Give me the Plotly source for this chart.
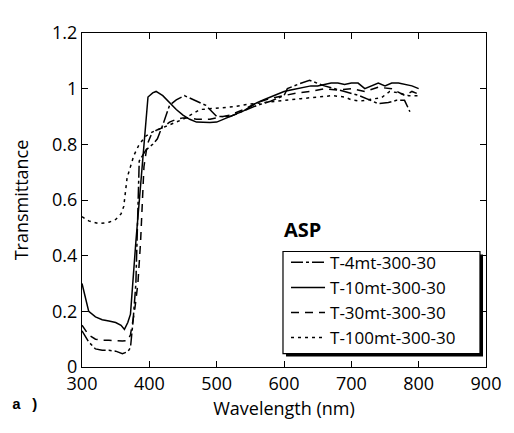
import plotly.graph_objects as go

# ---- data ----
names = ["T-4mt-300-30", "T-10mt-300-30", "T-30mt-300-30", "T-100mt-300-30"]

wl_4mt = [300, 310, 320, 330, 340, 350, 360, 368, 372, 376, 380, 385, 395, 405, 412, 420, 430,
          440, 452, 465, 484, 500, 520, 540, 560, 580, 600, 605, 620, 638, 660, 690, 712, 740,
          755, 767, 779, 787]
tr_4mt = [0.13, 0.09, 0.065, 0.06, 0.06, 0.057, 0.048, 0.055, 0.07, 0.17, 0.30, 0.74, 0.78,
          0.80, 0.82, 0.87, 0.94, 0.96, 0.975, 0.96, 0.94, 0.90, 0.90, 0.92, 0.94, 0.955, 0.975,
          1.0, 1.015, 1.03, 1.01, 0.99, 0.975, 0.946, 0.95, 0.958, 0.958, 0.917]

wl_10mt = [300, 305, 310, 320, 330, 340, 350, 358, 363, 368, 372, 380, 390, 398, 405, 410, 420,
           430, 440, 450, 460, 470, 480, 490, 500, 510, 520, 530, 540, 550, 560, 570, 580, 590,
           600, 610, 620, 630, 640, 650, 660, 670, 680, 690, 700, 710, 720, 730, 740, 750, 760,
           770, 780, 790, 800]
tr_10mt = [0.30, 0.25, 0.20, 0.18, 0.17, 0.165, 0.16, 0.15, 0.135, 0.16, 0.19, 0.45, 0.75, 0.97,
           0.985, 0.99, 0.975, 0.95, 0.925, 0.905, 0.89, 0.88, 0.878, 0.878, 0.88, 0.89, 0.90,
           0.91, 0.92, 0.935, 0.95, 0.96, 0.97, 0.98, 0.99, 0.995, 1.0, 1.005, 1.01, 1.01, 1.015,
           1.02, 1.02, 1.015, 1.02, 1.02, 1.0, 1.01, 1.02, 1.01, 1.02, 1.02, 1.015, 1.01, 1.0]

wl_30mt = [300, 305, 310, 320, 330, 340, 350, 360, 368, 372, 378, 383, 387, 392, 397, 402, 410,
           420, 430, 440, 450, 460, 470, 480, 490, 500, 520, 540, 560, 580, 600, 620, 640, 660,
           680, 700, 720, 740, 760, 780, 790, 800]
tr_30mt = [0.15, 0.13, 0.115, 0.10, 0.096, 0.096, 0.094, 0.093, 0.095, 0.116, 0.20, 0.30, 0.45,
           0.72, 0.80, 0.83, 0.85, 0.86, 0.88, 0.89, 0.895, 0.895, 0.89, 0.89, 0.89, 0.895, 0.905,
           0.925, 0.95, 0.965, 0.975, 0.985, 0.99, 1.0, 0.995, 1.0, 0.99, 1.005, 1.0, 0.975,
           0.99, 0.98]

wl_100mt = [300, 310, 325, 340, 350, 358, 362, 367, 372, 377, 385, 395, 405, 415, 430, 450, 475,
            500, 525, 550, 575, 600, 625, 650, 672, 690, 700, 712, 730, 745, 757, 770, 785, 800]
tr_100mt = [0.54, 0.525, 0.515, 0.52, 0.53, 0.55, 0.577, 0.68, 0.72, 0.76, 0.80, 0.83, 0.845,
            0.855, 0.87, 0.89, 0.925, 0.93, 0.935, 0.945, 0.952, 0.958, 0.964, 0.97, 0.975, 0.97,
            0.96, 0.955, 0.962, 0.968, 0.99, 0.985, 0.975, 0.975]

x_ticks = [300, 400, 500, 600, 700, 800, 900]
y_ticks = [0, 0.2, 0.4, 0.6, 0.8, 1, 1.2]

series = [
    (names[0], wl_4mt, tr_4mt, "12px,3px,3px,3px"),
    (names[1], wl_10mt, tr_10mt, "solid"),
    (names[2], wl_30mt, tr_30mt, "8px,6px"),
    (names[3], wl_100mt, tr_100mt, "3px,4px"),
]

FONT = "Open Sans"

fig = go.Figure()
for nm, xs, ys, dash in series:
    fig.add_trace(go.Scatter(x=xs, y=ys, mode="lines", name=nm,
                             line=dict(color="black", width=1.5, dash=dash)))

axis_common = dict(showline=True, linecolor="black", linewidth=1, mirror="ticks",
                   ticks="inside", ticklen=6, tickwidth=1, tickcolor="black",
                   showgrid=False, zeroline=False, ticklabeloverflow="allow",
                   tickfont=dict(family=FONT, size=18, color="black"))

# page body has an 8px margin: margins shifted to compensate
fig.update_layout(
    width=514, height=433,
    margin=dict(l=74, r=36, t=12, b=74),
    paper_bgcolor="white", plot_bgcolor="white",
    font=dict(family=FONT, color="black"),
    xaxis=dict(range=[300, 900], tickvals=x_ticks,
               title=dict(text="Wavelength (nm)", font=dict(family=FONT, size=18), standoff=8),
               **axis_common),
    yaxis=dict(range=[0, 1.2], tickvals=y_ticks,
               title=dict(text="Transmittance", font=dict(family=FONT, size=18), standoff=18),
               **axis_common),
    legend=dict(x=0.505, y=0.366, xanchor="left", yanchor="top",
                bgcolor="rgba(0,0,0,0)", borderwidth=0,
                font=dict(family=FONT, size=17, color="black"),
                tracegroupgap=0, itemwidth=34),
    showlegend=True,
)

# legend frame drawn as shapes: drop shadow, then white box with black border
fig.add_shape(type="rect", xref="paper", yref="paper",
              x0=0.505, x1=0.9926, y0=0.0317, y1=0.337,
              fillcolor="black", line=dict(width=0), layer="above")
fig.add_shape(type="rect", xref="paper", yref="paper",
              x0=0.4975, x1=0.9851, y0=0.0403, y1=0.3458,
              fillcolor="white", line=dict(color="black", width=1.2), layer="above")

fig.add_annotation(text="<b>ASP</b>", xref="paper", yref="paper", x=0.495, y=0.364,
                   xanchor="left", yanchor="bottom", showarrow=False,
                   font=dict(family=FONT, size=20, color="black"))
fig.add_annotation(text="<b>a )</b>", xref="paper", yref="paper", x=-0.178, y=-0.115,
                   xanchor="left", yanchor="middle", showarrow=False,
                   font=dict(family="Liberation Mono", size=15, color="black"))

fig.write_html("out.html")
